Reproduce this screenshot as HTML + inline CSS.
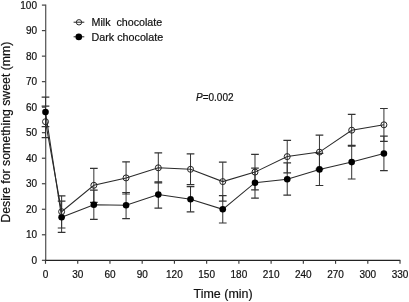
<!DOCTYPE html><html><head><meta charset="utf-8"><style>html,body{margin:0;padding:0;background:#fff;}svg{display:block;font-family:"Liberation Sans",sans-serif;will-change:transform;}text{stroke:#111;stroke-width:0.2px;}</style></head><body>
<svg width="409" height="302" viewBox="0 0 409 302">
<rect width="409" height="302" fill="#fff"/>
<g stroke="#222" stroke-width="1.2" fill="none">
<path d="M45.7 4.5V260.3" stroke="#575757" stroke-width="1.25"/><path d="M44.9 260.3H400.3"/>
<path d="M41.9 260.30H45.5" stroke="#3a3a3a" stroke-width="1.15"/>
<path d="M41.9 234.78H45.5" stroke="#3a3a3a" stroke-width="1.15"/>
<path d="M41.9 209.26H45.5" stroke="#3a3a3a" stroke-width="1.15"/>
<path d="M41.9 183.74H45.5" stroke="#3a3a3a" stroke-width="1.15"/>
<path d="M41.9 158.22H45.5" stroke="#3a3a3a" stroke-width="1.15"/>
<path d="M41.9 132.70H45.5" stroke="#3a3a3a" stroke-width="1.15"/>
<path d="M41.9 107.18H45.5" stroke="#3a3a3a" stroke-width="1.15"/>
<path d="M41.9 81.66H45.5" stroke="#3a3a3a" stroke-width="1.15"/>
<path d="M41.9 56.14H45.5" stroke="#3a3a3a" stroke-width="1.15"/>
<path d="M41.9 30.62H45.5" stroke="#3a3a3a" stroke-width="1.15"/>
<path d="M41.9 5.10H45.5" stroke="#3a3a3a" stroke-width="1.15"/>
<path d="M45.50 260.3V263.8" stroke="#3a3a3a" stroke-width="1.15"/>
<path d="M77.73 260.3V263.8" stroke="#3a3a3a" stroke-width="1.15"/>
<path d="M109.96 260.3V263.8" stroke="#3a3a3a" stroke-width="1.15"/>
<path d="M142.19 260.3V263.8" stroke="#3a3a3a" stroke-width="1.15"/>
<path d="M174.42 260.3V263.8" stroke="#3a3a3a" stroke-width="1.15"/>
<path d="M206.65 260.3V263.8" stroke="#3a3a3a" stroke-width="1.15"/>
<path d="M238.88 260.3V263.8" stroke="#3a3a3a" stroke-width="1.15"/>
<path d="M271.11 260.3V263.8" stroke="#3a3a3a" stroke-width="1.15"/>
<path d="M303.34 260.3V263.8" stroke="#3a3a3a" stroke-width="1.15"/>
<path d="M335.57 260.3V263.8" stroke="#3a3a3a" stroke-width="1.15"/>
<path d="M367.80 260.3V263.8" stroke="#3a3a3a" stroke-width="1.15"/>
<path d="M400.03 260.3V263.8" stroke="#3a3a3a" stroke-width="1.15"/>
</g>
<g fill="#111" font-size="10">
<text x="37" y="263.90" text-anchor="end">0</text>
<text x="37" y="238.38" text-anchor="end">10</text>
<text x="37" y="212.86" text-anchor="end">20</text>
<text x="37" y="187.34" text-anchor="end">30</text>
<text x="37" y="161.82" text-anchor="end">40</text>
<text x="37" y="136.30" text-anchor="end">50</text>
<text x="37" y="110.78" text-anchor="end">60</text>
<text x="37" y="85.26" text-anchor="end">70</text>
<text x="37" y="59.74" text-anchor="end">80</text>
<text x="37" y="34.22" text-anchor="end">90</text>
<text x="37" y="8.70" text-anchor="end">100</text>
<text x="45.50" y="278" text-anchor="middle">0</text>
<text x="77.73" y="278" text-anchor="middle">30</text>
<text x="109.96" y="278" text-anchor="middle">60</text>
<text x="142.19" y="278" text-anchor="middle">90</text>
<text x="174.42" y="278" text-anchor="middle">120</text>
<text x="206.65" y="278" text-anchor="middle">150</text>
<text x="238.88" y="278" text-anchor="middle">180</text>
<text x="271.11" y="278" text-anchor="middle">210</text>
<text x="303.34" y="278" text-anchor="middle">240</text>
<text x="335.57" y="278" text-anchor="middle">270</text>
<text x="367.80" y="278" text-anchor="middle">300</text>
<text x="400.03" y="278" text-anchor="middle">330</text>
</g>
<text x="223.1" y="298.4" font-size="12.45" fill="#111" text-anchor="middle">Time (min)</text>
<text transform="translate(10.2,132.1) rotate(-90)" font-size="12.3" fill="#111" text-anchor="middle">Desire for something sweet (mm)</text>
<g stroke="#333" stroke-width="1.0" fill="none">
<path d="M45.50 106.2V137.6"/>
<path d="M41.65 106.2H49.35M41.65 137.6H49.35" stroke="#333" stroke-width="1.2"/>
<path d="M45.50 97.2V126.7"/>
<path d="M41.65 97.2H49.35M41.65 126.7H49.35" stroke="#333" stroke-width="1.2"/>
<path d="M61.61 195.8V228.0"/>
<path d="M57.76 195.8H65.46M57.76 228.0H65.46" stroke="#333" stroke-width="1.2"/>
<path d="M61.61 201.2V232.4"/>
<path d="M57.76 201.2H65.46M57.76 232.4H65.46" stroke="#333" stroke-width="1.2"/>
<path d="M93.84 168.3V202.3"/>
<path d="M90.00 168.3H97.69M90.00 202.3H97.69" stroke="#333" stroke-width="1.2"/>
<path d="M93.84 190.1V219.3"/>
<path d="M90.00 190.1H97.69M90.00 219.3H97.69" stroke="#333" stroke-width="1.2"/>
<path d="M126.07 161.8V194.0"/>
<path d="M122.22 161.8H129.92M122.22 194.0H129.92" stroke="#333" stroke-width="1.2"/>
<path d="M126.07 192.5V218.6"/>
<path d="M122.22 192.5H129.92M122.22 218.6H129.92" stroke="#333" stroke-width="1.2"/>
<path d="M158.31 152.8V182.8"/>
<path d="M154.46 152.8H162.16M154.46 182.8H162.16" stroke="#333" stroke-width="1.2"/>
<path d="M158.31 181.8V208.1"/>
<path d="M154.46 181.8H162.16M154.46 208.1H162.16" stroke="#333" stroke-width="1.2"/>
<path d="M190.53 153.9V184.7"/>
<path d="M186.68 153.9H194.38M186.68 184.7H194.38" stroke="#333" stroke-width="1.2"/>
<path d="M190.53 186.6V211.8"/>
<path d="M186.68 186.6H194.38M186.68 211.8H194.38" stroke="#333" stroke-width="1.2"/>
<path d="M222.76 162.2V201.1"/>
<path d="M218.91 162.2H226.61M218.91 201.1H226.61" stroke="#333" stroke-width="1.2"/>
<path d="M222.76 195.7V223.0"/>
<path d="M218.91 195.7H226.61M218.91 223.0H226.61" stroke="#333" stroke-width="1.2"/>
<path d="M254.99 154.4V189.9"/>
<path d="M251.14 154.4H258.84M251.14 189.9H258.84" stroke="#333" stroke-width="1.2"/>
<path d="M254.99 168.2V198.1"/>
<path d="M251.14 168.2H258.84M251.14 198.1H258.84" stroke="#333" stroke-width="1.2"/>
<path d="M287.22 140.4V172.8"/>
<path d="M283.37 140.4H291.07M283.37 172.8H291.07" stroke="#333" stroke-width="1.2"/>
<path d="M287.22 162.9V195.2"/>
<path d="M283.37 162.9H291.07M283.37 195.2H291.07" stroke="#333" stroke-width="1.2"/>
<path d="M319.45 135.1V169.1"/>
<path d="M315.60 135.1H323.31M315.60 169.1H323.31" stroke="#333" stroke-width="1.2"/>
<path d="M319.45 153.3V185.5"/>
<path d="M315.60 153.3H323.31M315.60 185.5H323.31" stroke="#333" stroke-width="1.2"/>
<path d="M351.69 114.3V146.1"/>
<path d="M347.83 114.3H355.54M347.83 146.1H355.54" stroke="#333" stroke-width="1.2"/>
<path d="M351.69 145.3V179.0"/>
<path d="M347.83 145.3H355.54M347.83 179.0H355.54" stroke="#333" stroke-width="1.2"/>
<path d="M383.91 108.5V141.3"/>
<path d="M380.06 108.5H387.76M380.06 141.3H387.76" stroke="#333" stroke-width="1.2"/>
<path d="M383.91 136.1V170.7"/>
<path d="M380.06 136.1H387.76M380.06 170.7H387.76" stroke="#333" stroke-width="1.2"/>
</g>
<polyline points="45.50,121.7 61.61,211.7 93.84,185.3 126.07,177.9 158.31,167.8 190.53,169.3 222.76,181.6 254.99,172.1 287.22,156.6 319.45,152.1 351.69,130.2 383.91,124.8" stroke="#2a2a2a" stroke-width="1.05" fill="none"/>
<polyline points="45.50,112.1 61.61,217.3 93.84,204.7 126.07,205.3 158.31,194.6 190.53,199.3 222.76,209.3 254.99,182.7 287.22,179.3 319.45,169.4 351.69,162.1 383.91,153.5" stroke="#2a2a2a" stroke-width="1.05" fill="none"/>
<circle cx="45.50" cy="112.1" r="3.3" fill="#000"/>
<circle cx="61.61" cy="217.3" r="3.3" fill="#000"/>
<circle cx="93.84" cy="204.7" r="3.3" fill="#000"/>
<circle cx="126.07" cy="205.3" r="3.3" fill="#000"/>
<circle cx="158.31" cy="194.6" r="3.3" fill="#000"/>
<circle cx="190.53" cy="199.3" r="3.3" fill="#000"/>
<circle cx="222.76" cy="209.3" r="3.3" fill="#000"/>
<circle cx="254.99" cy="182.7" r="3.3" fill="#000"/>
<circle cx="287.22" cy="179.3" r="3.3" fill="#000"/>
<circle cx="319.45" cy="169.4" r="3.3" fill="#000"/>
<circle cx="351.69" cy="162.1" r="3.3" fill="#000"/>
<circle cx="383.91" cy="153.5" r="3.3" fill="#000"/>
<circle cx="45.50" cy="121.7" r="3.0" fill="none" stroke="#222" stroke-width="1.0"/>
<circle cx="61.61" cy="211.7" r="3.0" fill="none" stroke="#222" stroke-width="1.0"/>
<circle cx="93.84" cy="185.3" r="3.0" fill="none" stroke="#222" stroke-width="1.0"/>
<circle cx="126.07" cy="177.9" r="3.0" fill="none" stroke="#222" stroke-width="1.0"/>
<circle cx="158.31" cy="167.8" r="3.0" fill="none" stroke="#222" stroke-width="1.0"/>
<circle cx="190.53" cy="169.3" r="3.0" fill="none" stroke="#222" stroke-width="1.0"/>
<circle cx="222.76" cy="181.6" r="3.0" fill="none" stroke="#222" stroke-width="1.0"/>
<circle cx="254.99" cy="172.1" r="3.0" fill="none" stroke="#222" stroke-width="1.0"/>
<circle cx="287.22" cy="156.6" r="3.0" fill="none" stroke="#222" stroke-width="1.0"/>
<circle cx="319.45" cy="152.1" r="3.0" fill="none" stroke="#222" stroke-width="1.0"/>
<circle cx="351.69" cy="130.2" r="3.0" fill="none" stroke="#222" stroke-width="1.0"/>
<circle cx="383.91" cy="124.8" r="3.0" fill="none" stroke="#222" stroke-width="1.0"/>
<path d="M73.6 22.2H84.3M73.6 36.8H84.3" stroke="#222" stroke-width="1.0"/>
<circle cx="79.0" cy="22.3" r="2.7" fill="none" stroke="#222" stroke-width="0.95"/>
<circle cx="78.8" cy="36.9" r="3.3" fill="#000"/>
<text x="91.5" y="26" font-size="10.7" fill="#111" xml:space="preserve">Milk  chocolate</text>
<text x="91.5" y="40.9" font-size="10.75" fill="#111">Dark chocolate</text>
<text x="196" y="100.5" font-size="10" fill="#111"><tspan font-style="italic">P</tspan>=0.002</text>
</svg></body></html>
